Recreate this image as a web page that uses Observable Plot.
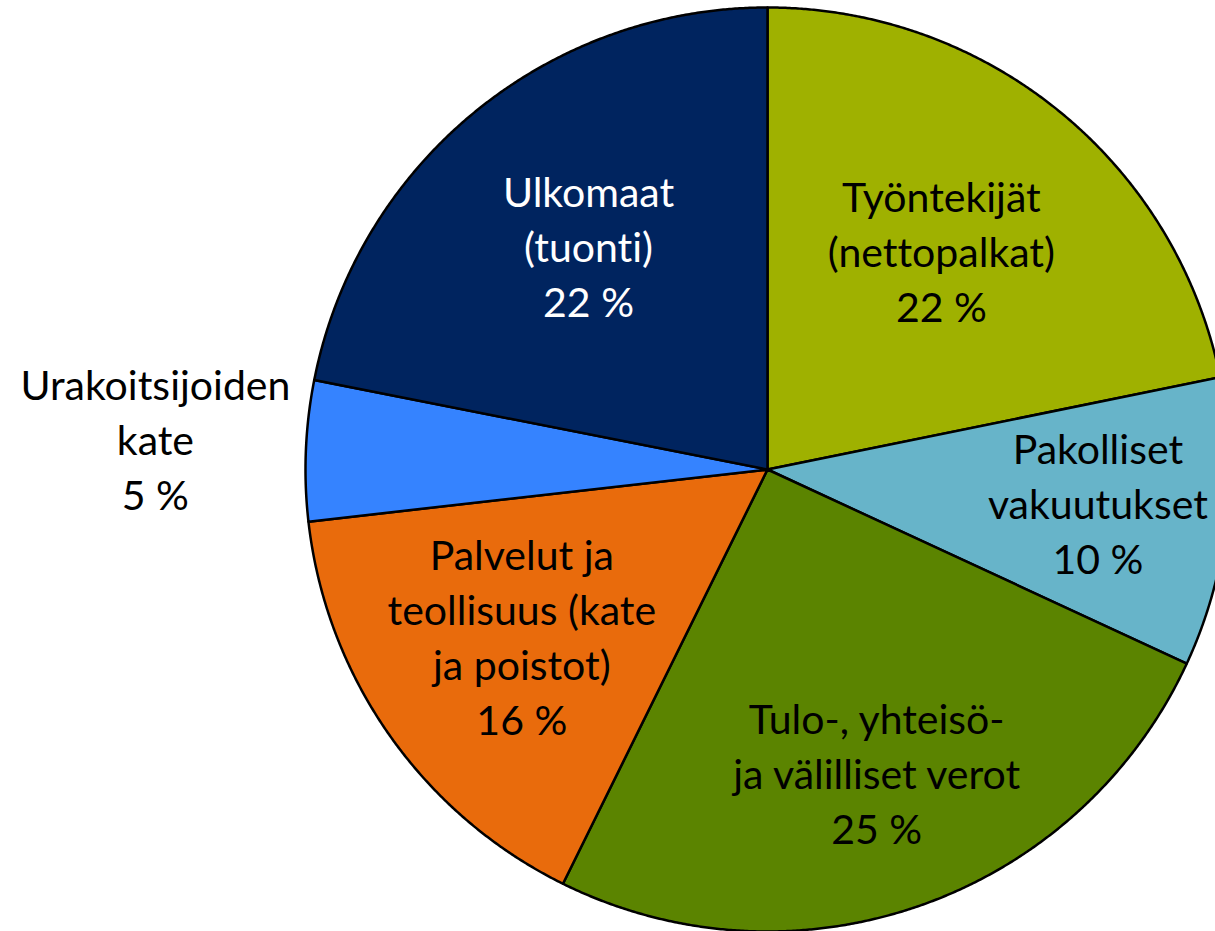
<!DOCTYPE html>
<html>
<head>
<meta charset="utf-8">
<script src="https://cdn.jsdelivr.net/npm/d3@7"></script>
<script src="https://cdn.jsdelivr.net/npm/@observablehq/plot@0.6"></script>
<style>
  html, body { margin: 0; padding: 0; background: #ffffff; overflow: hidden; }
  #chart { width: 1215px; height: 931px; }
  #chart svg text { font-variant-ligatures: none; font-feature-settings: "liga" 0, "clig" 0; }
</style>
</head>
<body>
<div id="chart"></div>
<script>
// ---- Data (clockwise from 12 o'clock) ----
const categories = [
  "Työntekijät\n(nettopalkat)",
  "Pakolliset\nvakuutukset",
  "Tulo-, yhteisö-\nja välilliset verot",
  "Palvelut ja\nteollisuus (kate\nja poistot)",
  "Urakoitsijoiden\nkate",
  "Ulkomaat\n(tuonti)"
];
const values = [21.8, 10.1, 25.4, 15.9, 4.9, 21.9];
const percentLabels = ["22 %", "10 %", "25 %", "16 %", "5 %", "22 %"];
const sliceColors = ["#9fb100", "#67b4c9", "#5b8400", "#e96b0c", "#3583ff", "#00245f"];
const labelColors = ["#000000", "#000000", "#000000", "#000000", "#000000", "#ffffff"];

// ---- Layout helpers (not data) ----
const labelRadius = [0.595, 0.72, 0.71, 0.65, 1.326, 0.61];

const arcs = d3.pie().sort(null).value(d => d)(values);

const slicePoints = [];
arcs.forEach((a, i) => {
  const key = categories[i];
  slicePoints.push({key, x: 0, y: 0});
  const n = Math.max(4, Math.ceil((a.endAngle - a.startAngle) / (Math.PI / 720)));
  for (let k = 0; k <= n; k++) {
    const t = a.startAngle + (a.endAngle - a.startAngle) * k / n;
    slicePoints.push({key, x: Math.sin(t), y: Math.cos(t)});
  }
  slicePoints.push({key, x: 0, y: 0});
});

const labels = arcs.map((a, i) => {
  const mid = (a.startAngle + a.endAngle) / 2;
  return {
    text: categories[i] + "\n" + percentLabels[i],
    x: labelRadius[i] * Math.sin(mid),
    y: labelRadius[i] * Math.cos(mid),
    color: labelColors[i]
  };
});

const chart = Plot.plot({
  width: 1215,
  height: 931,
  margin: 0,
  style: {background: "#ffffff", overflow: "hidden"},
  x: {domain: [-1, 1], range: [305, 1229], axis: null},
  y: {domain: [-1, 1], range: [931, 7], axis: null},
  color: {domain: categories, range: sliceColors},
  marks: [
    Plot.line(slicePoints, {
      x: "x", y: "y", z: "key",
      fill: "key",
      stroke: "#000000",
      strokeWidth: 2.5,
      strokeLinejoin: "round",
      clip: true
    }),
    Plot.text(labels, {
      x: "x", y: "y",
      text: "text",
      fill: d => d.color,
      fontSize: 41,
      fontFamily: "Lato",
      lineHeight: 1.34,
      dy: -7,
      textAnchor: "middle"
    })
  ]
});
document.getElementById("chart").appendChild(chart);
</script>
</body>
</html>
